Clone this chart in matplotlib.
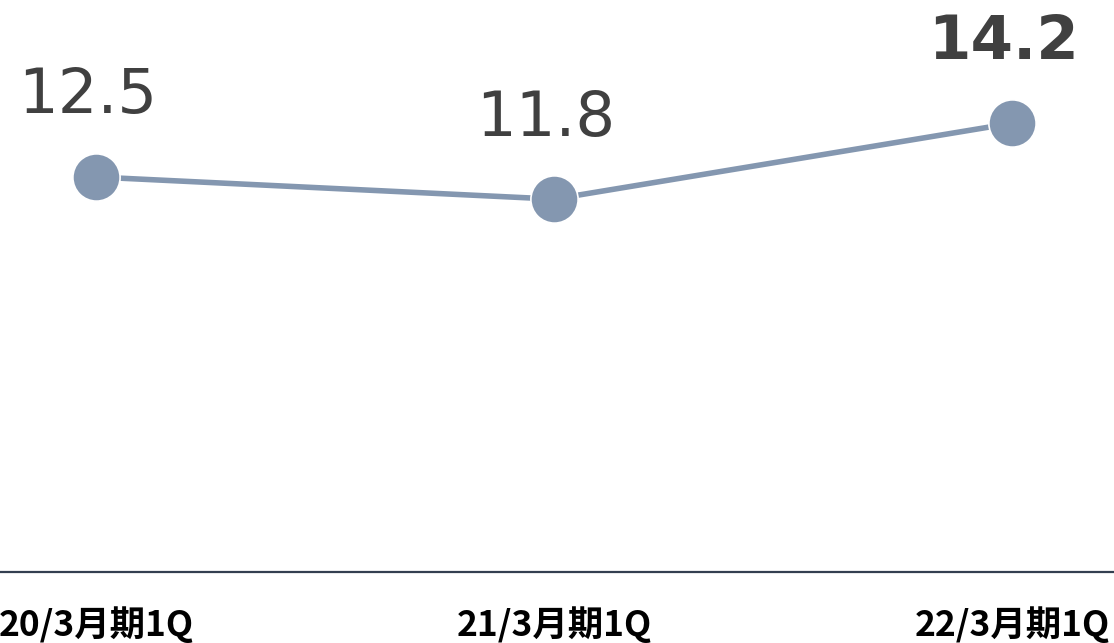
import matplotlib
matplotlib.use("Agg")
import matplotlib.pyplot as plt

periods = ["20/3月期1Q", "21/3月期1Q", "22/3月期1Q"]
values = [12.5, 11.8, 14.2]
value_labels = ["12.5", "11.8", "14.2"]
bold_last = [False, False, True]

line_color = "#8497b0"
text_color = "#404040"

fig = plt.figure(figsize=(11.14, 6.43), dpi=100)
ax = fig.add_axes([0, 71 / 643, 1, 572 / 643])

x = list(range(len(values)))
ax.plot(x, values, color=line_color, linewidth=4, zorder=2,
        solid_capstyle="butt")
ax.plot(x, values, linestyle="none", marker="o", markersize=34,
        markerfacecolor=line_color, markeredgecolor="white",
        markeredgewidth=1.2, zorder=3)

for xi, v, lab, b in zip(x, values, value_labels, bold_last):
    ax.annotate(lab, (xi, v), xytext=(-6, 58), textcoords="offset points",
                ha="center", va="center", color=text_color,
                fontsize=44 if b else 45,
                fontweight="bold" if b else "normal",
                family=["DejaVu Sans"])

# x range so the points land at 96, 554, 1012 px
ax.set_xlim(-96 / 458, (1114 - 96) / 458)
ax.set_ylim(0, 572 / 31.6)

for s in ["top", "right", "left"]:
    ax.spines[s].set_visible(False)
ax.spines["bottom"].set_color("#333f50")
ax.spines["bottom"].set_linewidth(1.6)
ax.set_yticks([])
ax.set_xticks(x)
ax.set_xticklabels(periods, fontsize=25.5, fontweight="bold", color="black",
                   family=["Noto Sans CJK JP", "DejaVu Sans"])
ax.tick_params(axis="x", length=0, pad=25)

fig.savefig("out.png", dpi=100)
